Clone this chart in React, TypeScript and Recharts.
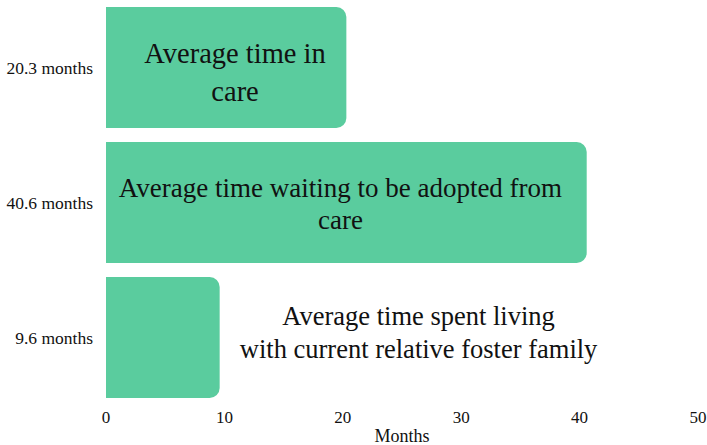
import { BarChart, Bar, XAxis, YAxis, LabelList } from "recharts";

const categories = ["20.3 months", "40.6 months", "9.6 months"];
const months = [20.3, 40.6, 9.6];
const barTexts = [
    ["Average time in", "care"],
    ["Average time waiting to be adopted from", "care"],
    ["Average time spent living", "with current relative foster family"],
];
// where each caption is centred, in months along the x axis
const captionAt = [10.9, 19.8, 26.4];
const xTicks = [0, 10, 20, 30, 40, 50];

const data = categories.map((name, i) => ({
    name,
    value: months[i],
    lines: barTexts[i],
    at: captionAt[i],
}));

const FONT = "'Liberation Serif', 'DejaVu Serif', serif";
const captionSize = [28.5, 27, 26.5];
const lineGap = [38, 32, 33];
const captionShift = [4.5, 1, -5];

const Caption = (props: any) => {
    const { x, y, width, height, index } = props;
    const row = data[index];
    const perUnit = width / row.value;
    const cx = x + row.at * perUnit;
    const cy = y + height / 2 + captionShift[index];
    const gap = lineGap[index];
    const n = row.lines.length;
    return (
        <text
            x={cx}
            textAnchor="middle"
            fontFamily={FONT}
            fontSize={captionSize[index]}
            fill="#111"
        >
            {row.lines.map((line: string, i: number) => (
                <tspan
                    key={i}
                    x={cx}
                    y={cy + (i - (n - 1) / 2) * gap}
                    dy="0.35em"
                >
                    {line}
                </tspan>
            ))}
        </text>
    );
};

export default function App() {
    return (
        <div style={{ position: "absolute", left: 0, top: 0 }}>
            <BarChart
                width={707}
                height={445}
                data={data}
                layout="vertical"
                margin={{ top: 0, right: 9, left: 0, bottom: 0 }}
                barCategoryGap={7}
            >
                <XAxis
                    type="number"
                    domain={[0, 50]}
                    ticks={xTicks}
                    axisLine={false}
                    tickLine={false}
                    tickSize={0}
                    tickMargin={6}
                    height={40}
                    tick={{ fontSize: 17, fill: "#111", fontFamily: FONT }}
                    label={{
                        value: "Months",
                        position: "insideBottom",
                        offset: 3,
                        fontSize: 18,
                        fill: "#111",
                        fontFamily: FONT,
                    }}
                />
                <YAxis
                    type="category"
                    dataKey="name"
                    width={106}
                    axisLine={false}
                    tickLine={false}
                    tickSize={0}
                    tickMargin={13}
                    tick={{ fontSize: 17.5, fill: "#111", fontFamily: FONT }}
                />
                <Bar
                    dataKey="value"
                    fill="#5ACC9E"
                    radius={[0, 10, 10, 0]}
                    isAnimationActive={false}
                >
                    <LabelList dataKey="value" content={<Caption />} />
                </Bar>
            </BarChart>
        </div>
    );
}
